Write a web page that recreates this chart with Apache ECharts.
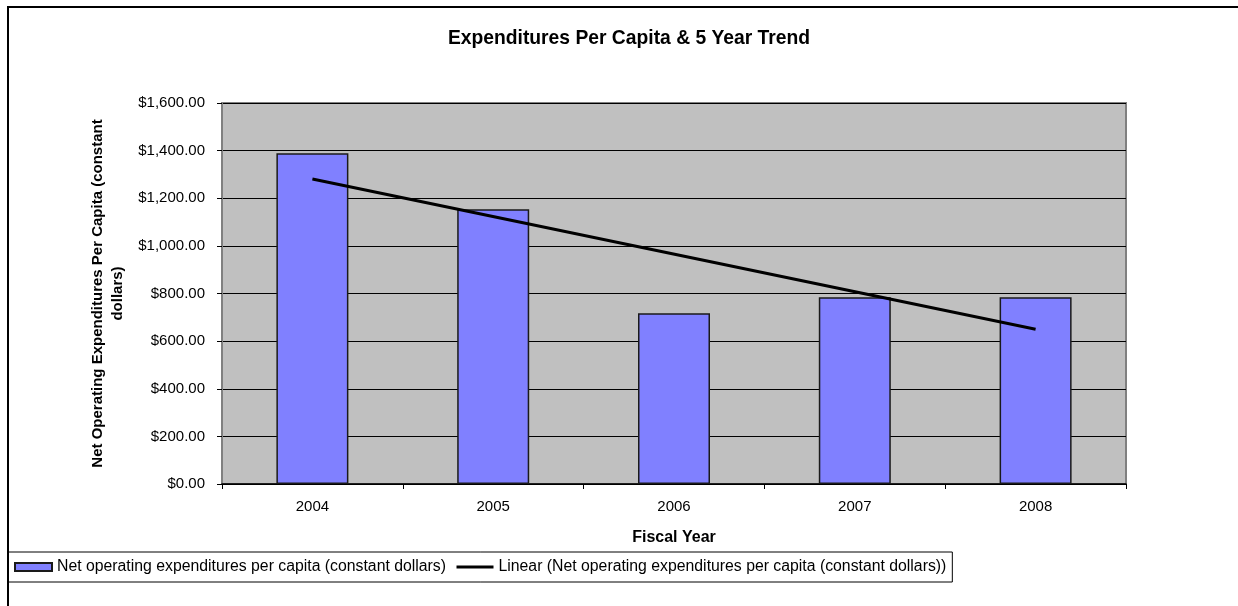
<!DOCTYPE html>
<html>
<head>
<meta charset="utf-8">
<script src="https://cdn.jsdelivr.net/npm/echarts@6/dist/echarts.min.js"></script>
<style>
  html, body { margin: 0; padding: 0; background: #fff; }
  #chart { width: 1238px; height: 606px; }
</style>
</head>
<body>
<div id="chart"></div>
<script>
// Fiscal years on the category axis
const years = ['2004', '2005', '2006', '2007', '2008'];
// Net operating expenditures per capita (constant dollars)
const perCapita = [1389, 1154, 717, 784, 784];
// Linear trend line: first and last year values, other years left empty
const trend = [1281, null, null, null, 650];
// Value axis range
const yMin = 0, yMax = 1600, yStep = 200;

const barName = 'Net operating expenditures per capita (constant dollars)';
const trendName = 'Linear (Net operating expenditures per capita (constant dollars))';
const font = '"Liberation Sans", Arial, sans-serif';

function money(v) {
  return '$' + v.toLocaleString('en-US', { minimumFractionDigits: 2, maximumFractionDigits: 2 });
}

const chart = echarts.init(document.getElementById('chart'), null, { renderer: 'canvas' });
chart.setOption({
  backgroundColor: '#fff',
  animation: false,
  textStyle: { fontFamily: font },
  graphic: [{
    type: 'rect',
    shape: { x: 8, y: 7, width: 1250, height: 620 },
    style: { fill: 'none', stroke: '#000', lineWidth: 2 },
    silent: true,
    z: -1
  }],
  title: {
    text: 'Expenditures Per Capita & 5 Year Trend',
    left: 624,
    textAlign: 'center',
    top: 24,
    textStyle: { fontFamily: font, fontSize: 19.3, fontWeight: 'bold', color: '#000' }
  },
  legend: {
    left: 8,
    top: 552,
    padding: [7, 6, 7, 6],
    itemGap: 9,
    itemWidth: 37,
    itemHeight: 8,
    borderColor: '#000',
    borderWidth: 1,
    textStyle: { fontFamily: font, fontSize: 15.8, color: '#000' },
    data: [
      { name: barName, icon: 'rect' },
      {
        name: trendName,
        itemStyle: { color: 'rgba(0,0,0,0)', borderWidth: 0 },
        lineStyle: { color: '#000', width: 3 }
      }
    ]
  },
  grid: {
    left: 222,
    top: 103,
    width: 904,
    height: 381,
    show: true,
    backgroundColor: '#C0C0C0',
    borderColor: '#808080',
    borderWidth: 2
  },
  xAxis: {
    type: 'category',
    data: years,
    boundaryGap: true,
    name: 'Fiscal Year',
    nameLocation: 'middle',
    nameGap: 46,
    nameTextStyle: { fontFamily: font, fontSize: 16, fontWeight: 'bold', color: '#000' },
    axisLine: { lineStyle: { color: '#000', width: 1.5 } },
    axisTick: { show: true, length: 5, lineStyle: { color: '#000' } },
    axisLabel: { margin: 15, fontFamily: font, fontSize: 15, color: '#000' },
    splitLine: { show: false }
  },
  yAxis: {
    type: 'value',
    min: yMin,
    max: yMax,
    interval: yStep,
    name: 'Net Operating Expenditures Per Capita (constant\ndollars)',
    nameLocation: 'middle',
    nameGap: 94,
    nameTextStyle: { fontFamily: font, fontSize: 15, fontWeight: 'bold', color: '#000', lineHeight: 20, align: 'center' },
    axisLine: { show: true, lineStyle: { color: '#808080', width: 2 } },
    axisTick: { show: true, length: 5, lineStyle: { color: '#000' } },
    axisLabel: { margin: 17, fontFamily: font, fontSize: 15, color: '#000', formatter: money },
    splitLine: { show: true, lineStyle: { color: '#000', width: 1 } }
  },
  series: [
    {
      name: barName,
      type: 'bar',
      data: perCapita,
      barWidth: 72,
      itemStyle: { color: '#8080FF', borderColor: '#1a1a1a', borderWidth: 1.5 }
    },
    {
      name: trendName,
      type: 'line',
      data: trend,
      connectNulls: true,
      symbol: 'none',
      lineStyle: { color: '#000', width: 3 },
      itemStyle: { color: '#000' },
      z: 5
    }
  ]
});
</script>
</body>
</html>
